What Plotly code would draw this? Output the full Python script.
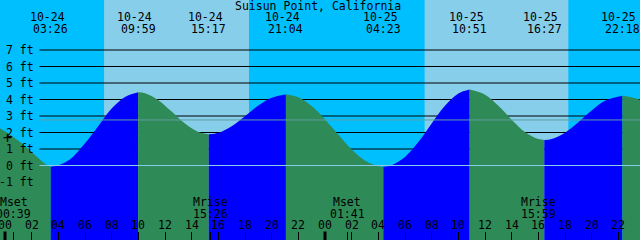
import plotly.graph_objects as go

# ---------------- data ----------------
title = "Suisun Point, California"

# tide curve readings: hours since 10-24 00:00, height in feet
tide_hours = [-0.5, 0, 0.5, 1, 1.5, 2, 2.5, 3, 3.433,
              4, 4.5, 5, 6, 7, 8, 9, 9.983,
              10.5, 11.5, 12.5, 13.5, 14.5, 15.283,
              16, 17, 18, 19, 20, 21.067,
              22, 23, 24, 25, 26, 27, 28, 28.383,
              29, 30, 31, 32, 33, 34, 34.85,
              36, 37, 38, 39, 40, 40.45,
              41, 42, 43, 44, 45, 46.3,
              47, 48]
tide_feet = [2.32, 2.08, 1.8, 1.5, 1.18, 0.82, 0.45, 0.1, -0.08,
             0.02, 0.18, 0.45, 1.35, 2.4, 3.45, 4.15, 4.44,
             4.38, 3.96, 3.27, 2.54, 2.03, 1.89,
             1.98, 2.38, 2.99, 3.63, 4.11, 4.31,
             4.14, 3.60, 2.79, 1.86, 0.97, 0.30, -0.05, -0.08,
             0.02, 0.52, 1.42, 2.55, 3.62, 4.36, 4.6,
             4.29, 3.62, 2.78, 2.03, 1.60, 1.55,
             1.61, 1.99, 2.62, 3.33, 3.92, 4.23,
             4.13, 3.88]

# tide extremes (labelled at the top)
extreme_hours = [3.433, 9.983, 15.283, 21.067, 28.383, 34.85, 40.45, 46.3]
extreme_dates = ["10-24", "10-24", "10-24", "10-24", "10-25", "10-25", "10-25", "10-25"]
extreme_times = ["03:26", "09:59", "15:17", "21:04", "04:23", "10:51", "16:27", "22:18"]

# daylight periods (sunrise, sunset) in hours
day_start = [7.43, 31.47]
day_end = [18.3, 42.25]

# moon events
moon_hours = [0.65, 15.433, 25.683, 39.983]
moon_names = ["Mset", "Mrise", "Mset", "Mrise"]
moon_times = ["00:39", "15:26", "01:41", "15:59"]

# height axis
ft_levels = [7, 6, 5, 4, 3, 2, 1, 0, -1]
ft_labels = ["7 ft", "6 ft", "5 ft", "4 ft", "3 ft", "2 ft", "1 ft", "0 ft", "-1 ft"]
mid_level = 2.76

# hour axis
hour_ticks = list(range(0, 49, 2))
hour_labels = ["%02d" % (h % 24) for h in hour_ticks]
midnights = [0, 24, 48]

# ---------------- styling ----------------
NIGHT = "#00BFFF"
DAY = "#87CEEB"
RISE = "#0000FF"
FALL = "#2E8B57"
FONT = dict(family="DejaVu Sans Mono", size=11.5, color="black")

W, H = 640, 240
X0 = -0.375
XSPAN = 48.0
Y0FT_PX = 165.5
PX_PER_FT = 16.5
y_lo = (Y0FT_PX - H) / PX_PER_FT
y_hi = Y0FT_PX / PX_PER_FT
BASE = y_lo - 1

fig = go.Figure()

# tide fills, split at extremes
idx = [tide_hours.index(h) for h in extreme_hours]
bounds = [0] + idx + [len(tide_hours) - 1]
for a, b in zip(bounds[:-1], bounds[1:]):
    xs = tide_hours[a:b + 1]
    ys = tide_feet[a:b + 1]
    col = RISE if ys[-1] > ys[0] else FALL
    fig.add_trace(go.Scatter(x=[xs[0], xs[-1]], y=[BASE, BASE], mode="lines",
                             line=dict(width=0), hoverinfo="skip", showlegend=False))
    fig.add_trace(go.Scatter(x=xs, y=ys, mode="lines", fill="tonexty", fillcolor=col,
                             line=dict(width=0, shape="spline", color=col),
                             hoverinfo="skip", showlegend=False))

shapes = []
for s, e in zip(day_start, day_end):
    shapes.append(dict(type="rect", xref="x", yref="paper", x0=s, x1=e, y0=0, y1=1,
                       fillcolor=DAY, line=dict(width=0), layer="below"))
for lv in ft_levels:
    if lv >= 1:
        shapes.append(dict(type="line", xref="paper", yref="y", x0=39.5 / W, x1=1,
                           y0=lv, y1=lv, line=dict(color="black", width=1), layer="below"))
shapes.append(dict(type="line", xref="paper", yref="y", x0=39.5 / W, x1=1,
                   y0=mid_level, y1=mid_level, line=dict(color="#5F9EA0", width=1), layer="above"))
shapes.append(dict(type="line", xref="paper", yref="y", x0=39.5 / W, x1=1,
                   y0=0, y1=0, line=dict(color="#87CEEB", width=1), layer="above"))
for m in midnights:
    shapes.append(dict(type="line", xref="x", yref="paper", x0=m, x1=m, y0=0, y1=8.5 / H,
                       line=dict(color="black", width=3), layer="above"))

ann = []
ann.append(dict(text=title, x=0.497, y=1 - 5.5 / H, xref="paper", yref="paper",
                showarrow=False, font=FONT, xanchor="center", yanchor="middle"))
for h, d, t in zip(extreme_hours, extreme_dates, extreme_times):
    ann.append(dict(text=d, x=h, y=1 - 16.7 / H, xref="x", yref="paper", xshift=-3.4,
                    showarrow=False, font=FONT, xanchor="center", yanchor="middle"))
    ann.append(dict(text=t, x=h, y=1 - 29.3 / H, xref="x", yref="paper",
                    showarrow=False, font=FONT, xanchor="center", yanchor="middle"))
for lv, lb in zip(ft_levels, ft_labels):
    ann.append(dict(text=lb, x=35.5 / W, y=lv, xref="paper", yref="y",
                    showarrow=False, font=FONT, xanchor="right", yanchor="middle"))
ann.append(dict(text="+", x=7.5 / W, y=1.65, xref="paper", yref="y",
                showarrow=False, font=dict(family="DejaVu Sans Mono", size=15, color="black"),
                xanchor="center", yanchor="middle"))
for h, n, t in zip(moon_hours, moon_names, moon_times):
    ann.append(dict(text=n, x=h, y=1 - 202.3 / H, xref="x", yref="paper",
                    showarrow=False, font=FONT, xanchor="center", yanchor="middle"))
    ann.append(dict(text=t, x=h, y=1 - 213.5 / H, xref="x", yref="paper",
                    showarrow=False, font=FONT, xanchor="center", yanchor="middle"))
for h, lb in zip(hour_ticks, hour_labels):
    ann.append(dict(text=lb, x=h, y=1 - 225 / H, xref="x", yref="paper",
                    showarrow=False, font=FONT, xanchor="center", yanchor="middle"))

fig.update_layout(
    width=W, height=H, margin=dict(l=0, r=0, t=0, b=0),
    paper_bgcolor=NIGHT, plot_bgcolor=NIGHT,
    shapes=shapes, annotations=ann, showlegend=False,
    xaxis=dict(range=[X0, X0 + XSPAN], showgrid=False, zeroline=False, showline=False,
               ticks="inside", ticklen=8, tickwidth=1, tickcolor="black",
               tickvals=hour_ticks + moon_hours, showticklabels=False, fixedrange=True),
    yaxis=dict(range=[y_lo, y_hi], showgrid=False, zeroline=False, showline=False,
               showticklabels=False, ticks="", fixedrange=True),
)

fig.write_html("out.html")
